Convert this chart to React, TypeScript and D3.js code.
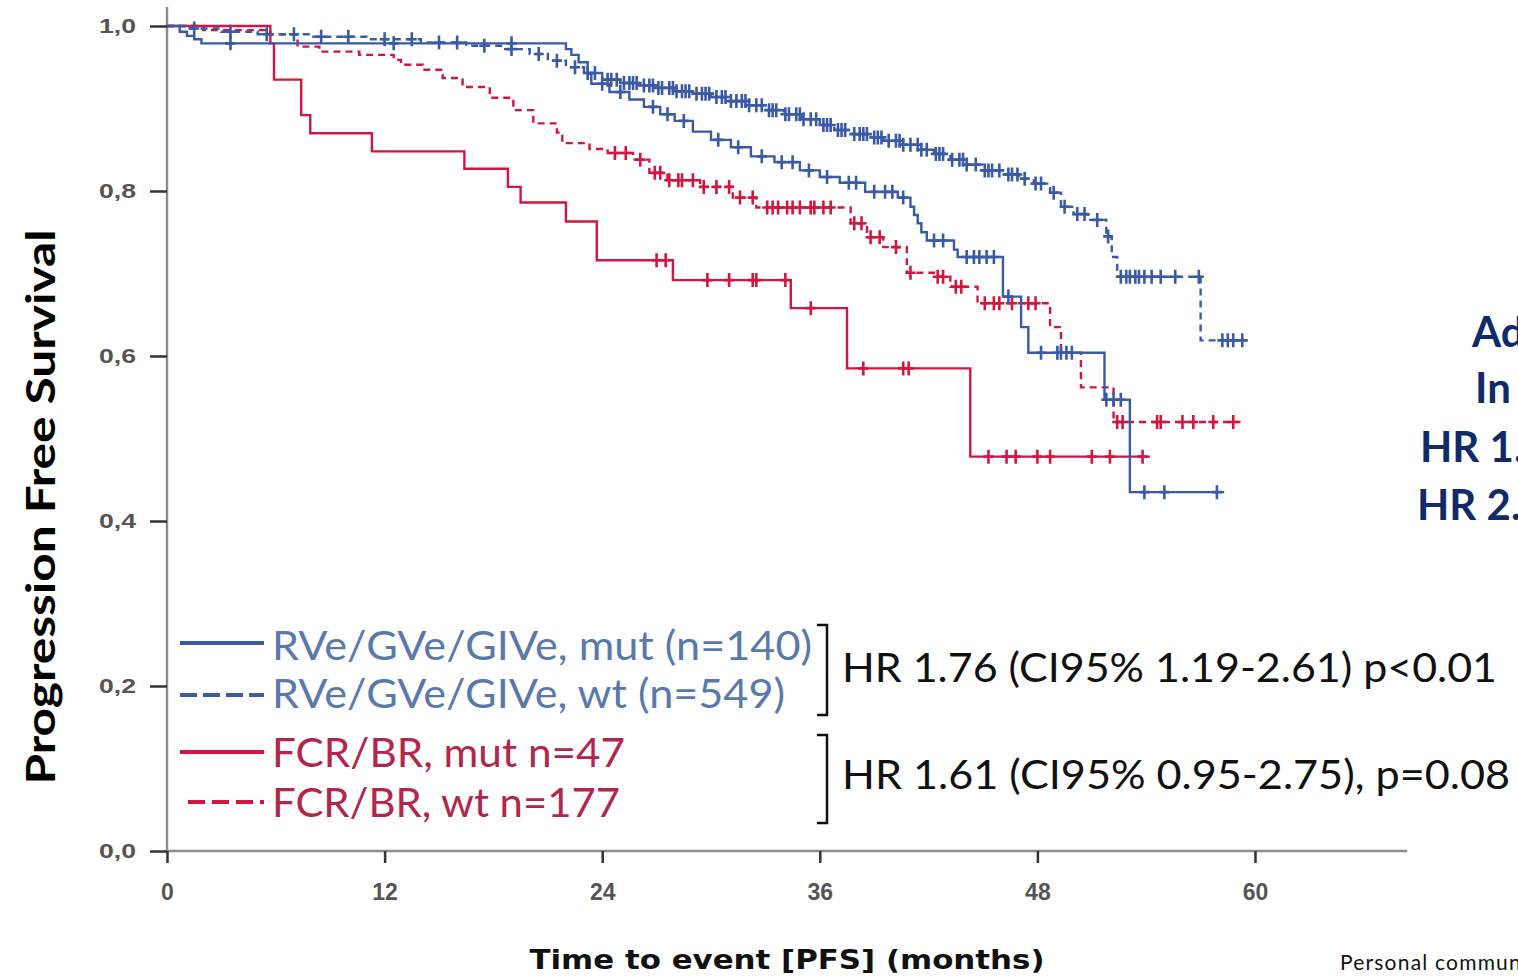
import React, { useEffect, useRef } from 'react'
import * as d3 from 'd3'

// RVe/GVe/GIVe, mut (n=140)
const rveMutTimes = [0.7, 1.1, 1.5, 1.9, 22.0, 22.3, 22.7, 23.2, 23.4, 24.4, 25.5, 26.3, 27.2, 28.0, 29.0, 30.0, 31.1, 32.2, 33.5, 34.9, 36.0, 37.1, 38.5, 40.3, 41.0, 41.2, 41.4, 41.6, 41.9, 43.4, 43.6, 46.1, 47.1, 47.5, 51.7, 53.1]
const rveMutSurv = [0.993, 0.988, 0.984, 0.979, 0.972, 0.965, 0.956, 0.942, 0.930, 0.920, 0.911, 0.902, 0.893, 0.885, 0.872, 0.862, 0.853, 0.842, 0.835, 0.825, 0.817, 0.810, 0.799, 0.792, 0.781, 0.771, 0.761, 0.750, 0.740, 0.729, 0.720, 0.672, 0.635, 0.604, 0.547, 0.435]
const rveMutCensor = [3.5, 12.5, 19.0, 24.0, 25.0, 26.8, 27.6, 28.5, 30.4, 31.5, 32.8, 33.9, 34.5, 35.4, 36.4, 37.6, 38.0, 39.0, 39.6, 40.0, 40.6, 42.3, 42.8, 44.1, 44.5, 44.8, 45.2, 45.6, 46.4, 48.2, 49.1, 49.3, 49.6, 49.9, 51.8, 52.2, 52.6, 53.9, 55.0, 57.9]
const rveMutEnd = 58.3

// RVe/GVe/GIVe, wt (n=549)
const rveWtTimes = [1.0, 3.0, 5.0, 8.0, 11.0, 14.0, 16.5, 18.5, 20.0, 21.0, 22.0, 23.0, 24.0, 25.0, 26.0, 27.0, 28.0, 29.0, 30.0, 31.0, 32.0, 33.0, 34.0, 35.0, 36.0, 36.8, 37.8, 38.8, 39.5, 40.5, 41.5, 42.3, 43.2, 44.0, 45.0, 46.0, 47.0, 47.8, 48.7, 49.3, 50.0, 50.8, 51.8, 52.1, 52.4, 57.0]
const rveWtSurv = [0.997, 0.993, 0.990, 0.987, 0.984, 0.980, 0.976, 0.972, 0.966, 0.958, 0.950, 0.943, 0.935, 0.931, 0.928, 0.925, 0.921, 0.918, 0.914, 0.909, 0.904, 0.898, 0.893, 0.887, 0.880, 0.874, 0.869, 0.865, 0.861, 0.856, 0.850, 0.845, 0.838, 0.832, 0.825, 0.820, 0.815, 0.809, 0.798, 0.781, 0.772, 0.765, 0.745, 0.720, 0.696, 0.619]
const rveWtCensor = [1.5, 3.5, 5.5, 7.0, 8.5, 10.0, 12.0, 13.5, 15.0, 16.0, 17.5, 19.0, 20.5, 21.5, 22.5, 23.2, 23.6, 24.3, 24.5, 24.8, 25.2, 25.5, 25.7, 25.9, 26.3, 26.6, 26.8, 27.1, 27.3, 27.7, 27.9, 28.1, 28.4, 28.6, 28.8, 29.2, 29.5, 29.7, 29.9, 30.3, 30.6, 30.8, 31.1, 31.4, 31.7, 31.9, 32.1, 32.5, 32.8, 33.2, 33.4, 33.6, 34.1, 34.3, 34.7, 34.9, 35.1, 35.5, 35.8, 36.2, 36.4, 36.6, 37.0, 37.2, 37.4, 37.9, 38.2, 38.4, 38.6, 39.0, 39.2, 39.4, 39.8, 40.2, 40.4, 40.6, 41.0, 41.4, 41.6, 41.9, 42.4, 42.6, 42.8, 43.3, 43.7, 43.9, 44.1, 44.6, 45.1, 45.3, 45.5, 45.9, 46.4, 46.6, 46.9, 47.3, 47.9, 48.2, 48.9, 49.5, 50.2, 50.6, 51.3, 51.9, 52.6, 52.9, 53.1, 53.4, 53.6, 53.9, 54.3, 54.8, 55.6, 56.9, 58.2, 58.5, 58.8, 59.3]
const rveWtEnd = 59.6

// FCR/BR, mut n=47
const fcrMutTimes = [5.7, 5.9, 7.4, 7.9, 11.3, 16.4, 18.8, 19.5, 22.0, 23.7, 27.9, 34.4, 37.5, 44.3]
const fcrMutSurv = [0.979, 0.935, 0.892, 0.870, 0.848, 0.827, 0.805, 0.786, 0.763, 0.716, 0.692, 0.658, 0.585, 0.478]
const fcrMutCensor = [27.0, 27.5, 29.8, 31.0, 32.3, 32.5, 34.1, 35.5, 38.4, 40.6, 40.9, 45.3, 46.3, 46.8, 48.0, 48.7, 51.0, 52.0, 53.8]
const fcrMutEnd = 54.2

// FCR/BR, wt n=177
const fcrWtTimes = [2.0, 5.7, 7.2, 8.4, 10.6, 12.5, 12.9, 14.1, 15.2, 16.3, 17.8, 19.1, 20.2, 21.5, 21.8, 23.3, 24.3, 25.7, 26.6, 27.6, 29.4, 31.2, 32.5, 37.7, 38.6, 39.5, 40.8, 42.3, 43.2, 44.7, 48.7, 49.3, 50.4, 52.2]
const fcrWtSurv = [0.995, 0.990, 0.975, 0.969, 0.965, 0.959, 0.953, 0.947, 0.937, 0.926, 0.913, 0.898, 0.882, 0.871, 0.858, 0.851, 0.846, 0.838, 0.822, 0.813, 0.805, 0.792, 0.780, 0.761, 0.744, 0.732, 0.701, 0.696, 0.684, 0.664, 0.635, 0.604, 0.562, 0.520]
const fcrWtCensor = [24.7, 25.3, 26.1, 26.9, 27.2, 27.7, 28.2, 28.4, 29.0, 29.6, 30.3, 31.0, 31.6, 32.3, 33.1, 33.4, 33.7, 34.2, 34.5, 34.9, 35.5, 35.7, 36.2, 36.6, 37.9, 38.3, 38.8, 39.3, 40.2, 41.0, 42.5, 42.8, 43.5, 43.8, 45.1, 45.6, 45.9, 46.6, 47.5, 47.9, 52.4, 52.7, 54.6, 54.8, 56.0, 56.6, 57.7, 58.8]
const fcrWtEnd = 59.2

const legendLabels = ['RVe/GVe/GIVe, mut (n=140)', 'RVe/GVe/GIVe, wt (n=549)', 'FCR/BR, mut n=47', 'FCR/BR, wt n=177']
const hrLabels = ['HR 1.76 (CI95% 1.19-2.61) p<0.01', 'HR 1.61 (CI95% 0.95-2.75), p=0.08']
const sideLabels = ['Ad', 'In', 'HR 1.', 'HR 2.']

const xTicks = [0, 12, 24, 36, 48, 60]
const yTicks = [0, 0.2, 0.4, 0.6, 0.8, 1.0]

const BLUE = '#3a5aa6'
const RED = '#d2163f'

const App = () => {
  const ref = useRef<SVGSVGElement>(null)

  useEffect(() => {
    const svg = d3.select(ref.current)
    svg.selectAll('*').remove()

    const x = d3.scaleLinear().domain([0, 60]).range([167, 1255])
    const y = d3.scaleLinear().domain([0, 1]).range([851, 26])

    const series = [
      { times: fcrWtTimes, surv: fcrWtSurv, censor: fcrWtCensor, end: fcrWtEnd, color: RED, dash: '7,5' },
      { times: fcrMutTimes, surv: fcrMutSurv, censor: fcrMutCensor, end: fcrMutEnd, color: RED, dash: null },
      { times: rveMutTimes, surv: rveMutSurv, censor: rveMutCensor, end: rveMutEnd, color: BLUE, dash: null },
      { times: rveWtTimes, surv: rveWtSurv, censor: rveWtCensor, end: rveWtEnd, color: BLUE, dash: '7,5' },
    ]

    // axes
    svg.append('line')
      .attr('x1', x(0)).attr('x2', x(0))
      .attr('y1', y(1.023)).attr('y2', y(0))
      .attr('stroke', '#8c8c8c').attr('stroke-width', 2.5)
    svg.append('line')
      .attr('x1', x(0)).attr('x2', x(68.4))
      .attr('y1', y(0)).attr('y2', y(0))
      .attr('stroke', '#8c8c8c').attr('stroke-width', 2.5)

    const yAxis = svg.append('g')
      .attr('transform', `translate(${x(0)},0)`)
      .call(d3.axisLeft(y).tickValues(yTicks).tickSize(17).tickPadding(14)
        .tickFormat(d => d3.format('.1f')(d as number).replace('.', ',')))
    const xAxis = svg.append('g')
      .attr('transform', `translate(0,${y(0)})`)
      .call(d3.axisBottom(x).tickValues(xTicks).tickSize(12).tickPadding(21))
    for (const ax of [yAxis, xAxis]) {
      ax.select('.domain').remove()
      ax.selectAll('.tick line').attr('stroke', '#333').attr('stroke-width', 2.5)
      ax.selectAll('.tick text')
        .attr('fill', '#555')
        .style('font-family', '"Liberation Sans", Arial, sans-serif')
        .style('font-weight', 'bold')
    }
    yAxis.selectAll('.tick text').style('font-size', '21px').attr('textLength', 37).attr('lengthAdjust', 'spacingAndGlyphs')
    xAxis.selectAll('.tick text').style('font-size', '23px')

    // curves
    const line = d3.line<[number, number]>()
      .x(d => x(d[0]))
      .y(d => y(d[1]))
      .curve(d3.curveStepAfter)

    series.forEach(s => {
      const pts: [number, number][] = [[0, 1]]
      s.times.forEach((t, i) => pts.push([t, s.surv[i]]))
      pts.push([s.end, s.surv[s.surv.length - 1]])

      svg.append('path')
        .datum(pts)
        .attr('fill', 'none')
        .attr('stroke', s.color)
        .attr('stroke-width', 2.4)
        .attr('stroke-dasharray', s.dash)
        .attr('d', line)

      const survAt = (t: number) => {
        const i = d3.bisectRight(s.times, t)
        return i === 0 ? 1 : s.surv[i - 1]
      }
      svg.append('g')
        .selectAll('path')
        .data(s.censor)
        .enter()
        .append('path')
        .attr('d', t => {
          const cx = x(t), cy = y(survAt(t))
          return `M${cx - 5},${cy}H${cx + 5}M${cx},${cy - 7}V${cy + 7}`
        })
        .attr('stroke', s.color)
        .attr('stroke-width', 2.6)
        .attr('fill', 'none')
    })

    // titles
    svg.append('text')
      .attr('transform', 'translate(55,507) rotate(-90)')
      .attr('text-anchor', 'middle')
      .attr('textLength', 555)
      .attr('lengthAdjust', 'spacingAndGlyphs')
      .style('font-family', 'Lato, sans-serif')
      .style('font-weight', 'bold')
      .style('font-size', '40px')
      .attr('fill', '#000')
      .text('Progression Free Survival')

    svg.append('text')
      .attr('x', 787).attr('y', 969)
      .attr('text-anchor', 'middle')
      .attr('textLength', 515)
      .attr('lengthAdjust', 'spacingAndGlyphs')
      .style('font-family', '"DejaVu Sans", Verdana, sans-serif')
      .style('font-weight', 'bold')
      .style('font-size', '26px')
      .attr('fill', '#111')
      .text('Time to event [PFS] (months)')

    // legend
    const legendRows = [
      { color: BLUE, text: '#5a79ab', dash: null, ly: 643, ty: 660, x0: 180, w: 540 },
      { color: BLUE, text: '#5a79ab', dash: '17,6', ly: 695, ty: 708, x0: 180, w: 513 },
      { color: RED, text: '#b3264b', dash: null, ly: 752, ty: 767, x0: 180, w: 353 },
      { color: RED, text: '#b3264b', dash: '17,7', ly: 802, ty: 817, x0: 188, w: 348 },
    ]
    legendRows.forEach((r, i) => {
      svg.append('line')
        .attr('x1', r.x0).attr('x2', 264)
        .attr('y1', r.ly).attr('y2', r.ly)
        .attr('stroke', r.color).attr('stroke-width', 4)
        .attr('stroke-dasharray', r.dash)
      svg.append('text')
        .attr('x', 272).attr('y', r.ty)
        .attr('textLength', r.w)
        .attr('lengthAdjust', 'spacingAndGlyphs')
        .style('font-family', 'Lato, sans-serif')
        .style('font-size', '41px')
        .attr('fill', r.text)
        .text(legendLabels[i])
    })

    // brackets + HR
    const brackets = [[625, 715], [735, 823]]
    const hrWidths = [655, 668]
    brackets.forEach(([a, b], i) => {
      svg.append('path')
        .attr('d', `M817,${a}H827V${b}H817`)
        .attr('fill', 'none').attr('stroke', '#111').attr('stroke-width', 2.5)
      svg.append('text')
        .attr('x', 842).attr('y', i === 0 ? 682 : 789)
        .attr('textLength', hrWidths[i])
        .attr('lengthAdjust', 'spacingAndGlyphs')
        .style('font-family', 'Lato, sans-serif')
        .style('font-size', '41px')
        .attr('fill', '#111')
        .text(hrLabels[i])
    })

    // side text (cut off at the right edge, as in the source slide)
    const sidePos = [[1472, 347], [1475, 403], [1420, 462], [1417, 520]]
    sideLabels.forEach((t, i) => {
      svg.append('text')
        .attr('x', sidePos[i][0]).attr('y', sidePos[i][1])
        .style('font-family', 'Lato, sans-serif')
        .style('font-weight', 'bold')
        .style('font-size', '42px')
        .attr('fill', '#112a6a')
        .text(t)
    })

    svg.append('text')
      .attr('x', 1340).attr('y', 970)
      .style('font-family', 'Lato, sans-serif')
      .style('font-size', '21px')
      .style('letter-spacing', '1.2px')
      .attr('fill', '#111')
      .text('Personal communication')

    return () => { svg.selectAll('*').remove() }
  }, [])

  return (
    <div style={{ position: 'fixed', left: 0, top: 0, width: 1518, height: 978, overflow: 'hidden', background: '#fff' }}>
      <svg ref={ref} width={1518} height={978} />
    </div>
  )
}

export default App
